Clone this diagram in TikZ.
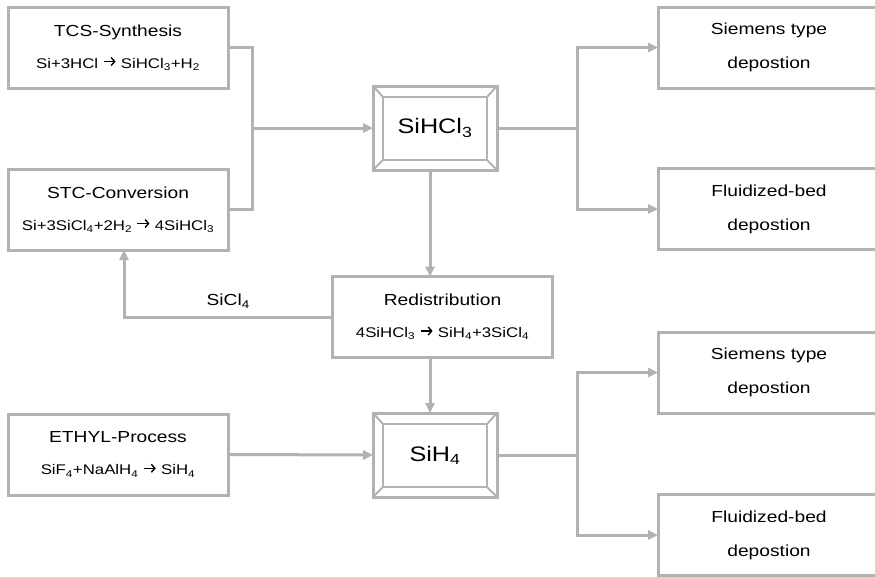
\documentclass[tikz,border=0pt]{standalone}
\usepackage{fontspec}
\setmainfont{Liberation Sans}[FakeStretch=1.2]
\usepackage{xcolor}
\usepackage{tikz}
\usetikzlibrary{positioning, arrows.meta, calc}

\definecolor{linegray}{RGB}{178,178,178}
\newcommand{\eqline}[1]{{\fontsize{14}{17}\selectfont #1}}
\newcommand{\yields}{\tikz[baseline=-0.5ex]
  \draw[line width=1.4pt, -{Straight Barb[length=3.5pt, width=8pt]}] (0pt,0.4ex) -- (12pt,0.4ex);}
\newcommand{\bevelframe}[1]{%
  \draw[draw = linegray, line width = 2.5pt]
    ($(#1.north west)+(10,-11)$) rectangle ($(#1.south east)+(-10,10)$);
  \draw[draw = linegray, line width = 2pt]
    (#1.north west) -- ++(10,-11) (#1.north east) -- ++(-10,-11)
    (#1.south west) -- ++(10,10) (#1.south east) -- ++(-10,10);}

\begin{document}
\begin{tikzpicture}[ x = 1pt, y = 1pt
                     , >={Triangle[length=10pt, width=9pt]}
                     , every node/.style = { rectangle
                                         , draw = linegray
                                         , line width = 3pt
                                         , outer sep = 0pt
                                         , align = center
                                         , minimum width = 220pt
                                         , minimum height = 81pt
                                         , font = \fontsize{16}{32}\selectfont }
                     , bevel/.style = { minimum width = 124pt
                                      , minimum height = 84pt
                                      , font = \fontsize{21}{25}\selectfont }
                     , outbox/.style = { minimum width = 222pt
                                       , font = \fontsize{16}{34}\selectfont }
                     , link/.style = { draw = linegray, line width = 3pt }
                     ]
  \useasboundingbox (0,0) rectangle (875,-576);

  \node (tcs) at (118,-47.5)
    {TCS-Synthesis\\ \eqline{Si+3HCl \yields{} SiHCl\textsubscript{3}+H\textsubscript{2}}};
  \node (stc) [below = 81pt of tcs]
    {STC-Conversion\\ \eqline{Si+3SiCl\textsubscript{4}+2H\textsubscript{2} \yields{} 4SiHCl\textsubscript{3}}};
  \node (ethyl) [below = 164pt of stc]
    {ETHYL-Process\\ \eqline{SiF\textsubscript{4}+NaAlH\textsubscript{4} \yields{} SiH\textsubscript{4}}};

  \node (sihcl) [bevel] at (435,-128) {SiHCl\textsubscript{3}};
  \node (redist) at (442.5,-317)
    {Redistribution\\ \eqline{4SiHCl\textsubscript{3} \yields{} SiH\textsubscript{4}+3SiCl\textsubscript{4}}};
  \node (sih) [bevel] at (435,-455) {SiH\textsubscript{4}};
  \bevelframe{sihcl}
  \bevelframe{sih}

  \node (siemA) [outbox] at (769,-47.5) {Siemens type\\depostion};
  \node (fluidA) [outbox] at (769,-209) {Fluidized-bed\\depostion};
  \node (siemB) [outbox] at (769,-372.5) {Siemens type\\depostion};
  \node (fluidB) [outbox] at (769,-535) {Fluidized-bed\\depostion};

  \tikzset{every node/.style={font=\fontsize{16}{19}\selectfont}}

  % chlorosilane route
  \coordinate (inleft) at (252,-128);
  \draw[link] (tcs.east) -| (inleft) |- (stc.east);
  \draw[link, ->] (inleft) -- (sihcl.west);

  \coordinate (outtop) at (577,-128);
  \draw[link] (sihcl.east) -- (outtop);
  \draw[link, ->] (outtop) |- (siemA.west);
  \draw[link, ->] (outtop) |- (fluidA.west);

  \draw[link, ->] ([xshift=-5pt]sihcl.south)
    -- ([xshift=-5pt]sihcl.south |- redist.north);
  \draw[link, ->] (redist.west)
    -| node [pos=0.25, above=4pt] {SiCl\textsubscript{4}}
    ([xshift=6pt]stc.south);
  \draw[link, ->] ([xshift=-5pt]sihcl.south |- redist.south)
    -- ([xshift=-5pt]sih.north);

  % silane route
  \draw[link, ->] (ethyl.east) -- (sih.west);
  \coordinate (outbot) at (577,-455);
  \draw[link] (sih.east) -- (outbot);
  \draw[link, ->] (outbot) |- (siemB.west);
  \draw[link, ->] (outbot) |- (fluidB.west);

\end{tikzpicture}
\end{document}
